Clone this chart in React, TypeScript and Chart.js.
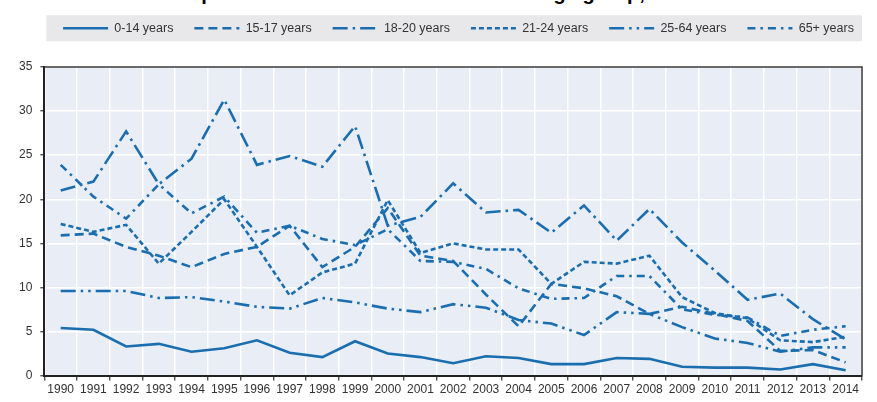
import { useEffect, useRef } from 'react';
import { Chart, registerables } from 'chart.js';

Chart.register(...registerables);

const years = [
  '1990', '1991', '1992', '1993', '1994', '1995', '1996', '1997', '1998', '1999',
  '2000', '2001', '2002', '2003', '2004', '2005', '2006', '2007', '2008', '2009',
  '2010', '2011', '2012', '2013', '2014',
];

const seriesLabels = ['0-14 years', '15-17 years', '18-20 years', '21-24 years', '25-64 years', '65+ years'];

const age0to14 = [5.4, 5.2, 3.3, 3.6, 2.7, 3.1, 4.0, 2.6, 2.1, 3.9, 2.5, 2.1, 1.4, 2.2, 2.0, 1.3, 1.3, 2.0, 1.9, 1.0, 0.9, 0.9, 0.7, 1.3, 0.6];
const age15to17 = [15.9, 16.1, 14.6, 13.6, 12.3, 13.8, 14.6, 17.0, 12.3, 14.6, 19.0, 13.6, 13.0, 9.2, 5.6, 10.4, 9.9, 9.0, 7.0, 7.8, 7.0, 6.2, 2.8, 2.9, 1.5];
const age18to20 = [21.0, 22.0, 27.7, 21.7, 24.6, 31.3, 23.9, 24.9, 23.7, 28.3, 17.0, 18.0, 21.8, 18.5, 18.8, 16.2, 19.3, 15.3, 18.9, 15.1, 11.9, 8.6, 9.3, 6.4, 4.1];
const age21to24 = [17.2, 16.3, 17.1, 12.7, 16.3, 20.0, 14.6, 9.1, 11.7, 12.7, 19.9, 13.9, 15.0, 14.3, 14.3, 10.4, 12.9, 12.7, 13.6, 8.9, 7.1, 6.5, 4.0, 3.8, 4.4];
const age25to64 = [9.6, 9.6, 9.6, 8.8, 8.9, 8.4, 7.8, 7.6, 8.8, 8.3, 7.6, 7.2, 8.1, 7.7, 6.3, 5.9, 4.6, 7.2, 7.0, 5.5, 4.2, 3.7, 2.7, 3.2, 3.2];
const age65plus = [23.9, 20.3, 17.8, 21.7, 18.4, 20.3, 16.2, 17.0, 15.5, 14.8, 16.6, 13.0, 12.9, 12.1, 9.9, 8.7, 8.8, 11.3, 11.3, 7.5, 6.9, 6.6, 4.5, 5.2, 5.6];

const yTicks = [0, 5, 10, 15, 20, 25, 30, 35];

const seriesValues = [age0to14, age15to17, age18to20, age21to24, age25to64, age65plus];
const seriesDashes: number[][] = [
  [],
  [9, 5],
  [15, 5, 2.5, 5],
  [5, 3],
  [15, 5, 2.5, 5, 2.5, 5],
  [8, 5, 2.5, 5],
];

const LINE = '#1a6eaf';
const TEXT = '#333333';
const FONT = "'Liberation Sans', Arial, sans-serif";

const decor = {
  id: 'decor',
  afterLayout(chart: any) {
    const lg = chart.legend;
    if (lg) {
      lg.left += 22;
      lg.right += 22;
    }
  },
  beforeDraw(chart: any) {
    const { ctx, chartArea } = chart;
    ctx.save();
    const lg = chart.legend;
    if (lg && lg.legendHitBoxes && lg.legendHitBoxes.length) {
      const hb = lg.legendHitBoxes[0];
      const cy = hb.top + hb.height / 2;
      ctx.fillStyle = '#e8e8ea';
      ctx.fillRect(chartArea.left + 2, cy - 13, chartArea.right - chartArea.left - 2, 26);
    }
    ctx.fillStyle = '#e9edf5';
    ctx.fillRect(chartArea.left, chartArea.top, chartArea.right - chartArea.left, chartArea.bottom - chartArea.top);
    ctx.restore();
  },
  afterDraw(chart: any) {
    const { ctx, chartArea } = chart;
    ctx.save();
    ctx.strokeStyle = '#3a3a3a';
    ctx.lineWidth = 1.5;
    ctx.beginPath();
    ctx.moveTo(chartArea.left, chartArea.top);
    ctx.lineTo(chartArea.right, chartArea.top);
    ctx.lineTo(chartArea.right, chartArea.bottom);
    ctx.stroke();
    ctx.restore();
  },
};

export default function App() {
  const canvasRef = useRef<HTMLCanvasElement | null>(null);

  useEffect(() => {
    const canvas = canvasRef.current;
    if (!canvas) return;
    const chart = new Chart(canvas, {
      type: 'line',
      data: {
        labels: years,
        datasets: seriesLabels.map((label, i) => ({
          label,
          data: seriesValues[i],
          borderColor: LINE,
          backgroundColor: LINE,
          borderWidth: 2.6,
          borderDash: seriesDashes[i],
          pointRadius: 0,
          pointHoverRadius: 0,
          tension: 0,
          fill: false,
          xAxisID: 'x',
        })),
      },
      options: {
        responsive: false,
        animation: false,
        devicePixelRatio: 1,
        layout: { padding: { left: 11, right: 15, top: 1, bottom: 3 } },
        plugins: {
          title: { display: false },
          tooltip: { enabled: false },
          legend: {
            display: true,
            position: 'top',
            labels: {
              usePointStyle: true,
              pointStyle: 'line',
              pointStyleWidth: 45,
              boxHeight: 12.5,
              padding: 21,
              color: TEXT,
              font: { family: FONT, size: 12.5 },
              generateLabels: (c: any) =>
                c.data.datasets.map((ds: any, i: number) => ({
                  text: ds.label,
                  strokeStyle: LINE,
                  fillStyle: LINE,
                  fontColor: TEXT,
                  lineWidth: 2.6,
                  lineDash: seriesDashes[i],
                  lineCap: 'butt',
                  pointStyle: 'line',
                  hidden: false,
                  datasetIndex: i,
                })),
            },
          },
        },
        scales: {
          x: {
            type: 'category',
            position: 'bottom',
            offset: true,
            grid: {
              offset: true,
              color: '#ffffff',
              lineWidth: 1.5,
              drawTicks: true,
              tickLength: 5,
              tickColor: '#333333',
              tickWidth: 1.2,
            },
            border: { display: true, color: '#222222', width: 2 },
            ticks: {
              color: TEXT,
              font: { family: FONT, size: 12 },
              padding: 2,
              autoSkip: false,
              maxRotation: 0,
              minRotation: 0,
            },
          },
          gap: {
            type: 'category',
            labels: years,
            position: 'top',
            display: true,
            grid: { display: false, drawTicks: false },
            border: { display: false },
            ticks: { display: false },
            afterFit: (s: any) => {
              s.height = 22.5;
            },
          },
          y: {
            min: 0,
            max: 35,
            afterBuildTicks: (axis: any) => {
              axis.ticks = yTicks.map((v) => ({ value: v }));
            },
            grid: {
              color: '#ffffff',
              lineWidth: 1.5,
              drawTicks: true,
              tickLength: 4,
              tickColor: '#333333',
              tickWidth: 1.2,
            },
            border: { display: true, color: '#222222', width: 2 },
            ticks: {
              color: TEXT,
              font: { family: FONT, size: 12 },
              padding: 8,
            },
          },
        },
      },
      plugins: [decor],
    });
    return () => chart.destroy();
  }, []);

  return (
    <div style={{ position: 'absolute', left: 0, top: 0, width: 877, height: 402, overflow: 'hidden', background: '#fff' }}>
      <div
        style={{
          position: 'absolute',
          left: 59,
          top: -17,
          whiteSpace: 'nowrap',
          fontFamily: "'Liberation Sans', Arial, sans-serif",
          fontWeight: 'bold',
          fontSize: 20,
          lineHeight: '20px',
          color: '#000',
        }}
      >
        Road fatalities per 100 000 inhabitants within each age group, 1990-2014
      </div>
      <canvas ref={canvasRef} width={877} height={402} style={{ position: 'absolute', left: 0, top: 0 }} />
    </div>
  );
}
